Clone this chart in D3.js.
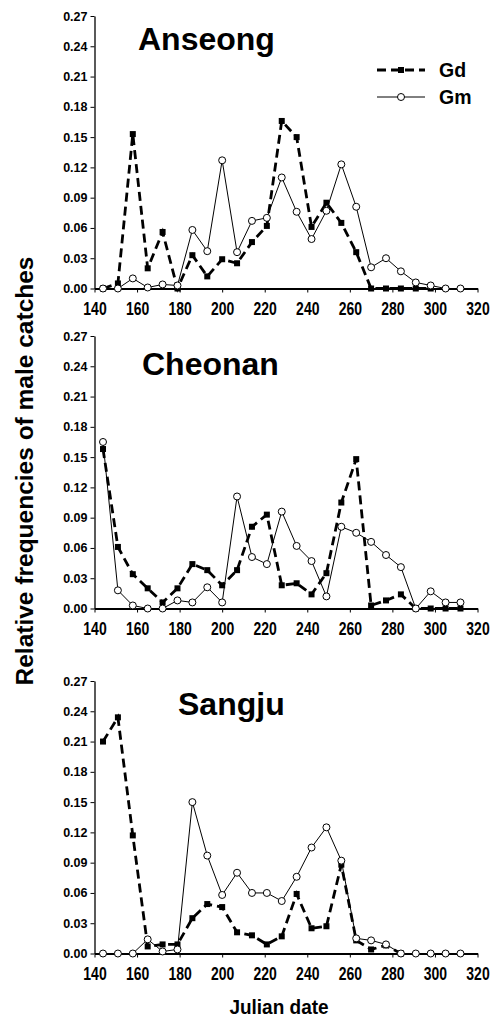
<!DOCTYPE html>
<html>
<head>
<meta charset="utf-8">
<script src="https://cdn.jsdelivr.net/npm/d3@7/dist/d3.min.js"></script>
<style>
    body { margin: 0; background: #fff; }
    svg { display: block; font-family: Arial, "Liberation Sans", sans-serif; font-weight: bold; }
</style>
</head>
<body>
<svg id="chart" width="493" height="1018"></svg>
<script>
// weekly sampling dates (Julian)
const dates = [ 144, 151, 158, 165, 172, 179, 186, 193, 200, 207, 214, 221, 228, 235, 242, 249, 256, 263, 270, 277, 284, 291, 298, 305, 312 ]

const xTicks = [ 140, 160, 180, 200, 220, 240, 260, 280, 300, 320 ]
const yTicks = [ 0, 0.03, 0.06, 0.09, 0.12, 0.15, 0.18, 0.21, 0.24, 0.27 ]

const sites = [ 'Anseong', 'Cheonan', 'Sangju' ]
const seriesNames = [ 'Gd', 'Gm' ]

const anseongGd = [ 0, 0.005, 0.153, 0.020, 0.056, 0, 0.033, 0.012, 0.029, 0.025, 0.046, 0.062, 0.166, 0.150, 0.061, 0.085, 0.065, 0.036, 0, 0, 0, 0, 0 ]
const anseongGm = [ 0, 0, 0.010, 0.001, 0.004, 0.003, 0.058, 0.037, 0.127, 0.036, 0.067, 0.070, 0.110, 0.076, 0.049, 0.077, 0.123, 0.081, 0.021, 0.030, 0.017, 0.006, 0.003, 0, 0 ]

const cheonanGd = [ 0.158, 0.061, 0.034, 0.020, 0.006, 0.020, 0.044, 0.038, 0.023, 0.038, 0.081, 0.093, 0.023, 0.025, 0.014, 0.035, 0.105, 0.148, 0.003, 0.008, 0.014, 0, 0, 0, 0 ]
const cheonanGm = [ 0.165, 0.018, 0.003, 0, 0, 0.008, 0.006, 0.021, 0.006, 0.111, 0.051, 0.044, 0.096, 0.062, 0.047, 0.012, 0.081, 0.075, 0.066, 0.053, 0.041, 0, 0.017, 0.006, 0.006 ]

const sangjuGd = [ 0.210, 0.234, 0.117, 0.007, 0.009, 0.009, 0.035, 0.049, 0.046, 0.021, 0.018, 0.009, 0.017, 0.059, 0.025, 0.027, 0.088, 0.013, 0.004, 0.008, 0 ]
const sangjuGm = [ 0, 0, 0, 0.014, 0.002, 0.004, 0.150, 0.097, 0.058, 0.080, 0.060, 0.060, 0.052, 0.076, 0.105, 0.125, 0.092, 0.015, 0.013, 0.009, 0, 0, 0, 0, 0 ]

const gdBySite = [ anseongGd, cheonanGd, sangjuGd ]
const gmBySite = [ anseongGm, cheonanGm, sangjuGm ]

const svg = d3.select( '#chart' )

const panelZero = [ 288.5, 608.5, 953.5 ],
      panelHeight = 272.5,
      titlePos = [ [ 138, 34 ], [ 142, 39 ], [ 178, 34 ] ]

const x = d3.scaleLinear().domain( [ 140, 320 ] ).range( [ 94.5, 477.5 ] )

const toPoints = values => values.map( ( v, i ) => [ dates[i], v ] )

sites.forEach( ( site, p ) => {
    const y = d3.scaleLinear().domain( [ 0, 0.27 ] ).range( [ panelZero[p], panelZero[p] - panelHeight ] )
    const g = svg.append( 'g' )

    // y axis
    const yAxis = g.append( 'g' )
        .attr( 'transform', `translate( ${x( 140 )}, 0 )` )
        .call( d3.axisLeft( y ).tickValues( yTicks ).tickFormat( d3.format( '.2f' ) ).tickSize( 4 ).tickPadding( 3 ).tickSizeOuter( 0 ) )
    yAxis.select( '.domain' ).attr( 'stroke-width', 1.3 )
    yAxis.selectAll( '.tick line' ).attr( 'stroke-width', 1 )
    yAxis.selectAll( 'text' ).attr( 'font-size', 12.5 ).attr( 'font-family', null ).attr( 'fill', '#000' )

    // x axis
    const xAxis = g.append( 'g' )
        .attr( 'transform', `translate( 0, ${y( 0 )} )` )
        .call( d3.axisBottom( x ).tickValues( xTicks ).tickSize( 4 ).tickSizeOuter( 0 ) )
    xAxis.select( '.domain' ).attr( 'stroke-width', 2 )
    xAxis.selectAll( '.tick line' ).attr( 'stroke-width', 1 )
    xAxis.selectAll( 'text' )
        .attr( 'font-size', 14 ).attr( 'font-family', null ).attr( 'fill', '#000' )
        .attr( 'y', 0 ).attr( 'dy', 0 )
        .attr( 'transform', 'translate( 0, 26.5 ) scale( 1, 1.33 )' )
    g.selectAll( '.domain' ).attr( 'stroke', '#000' )

    const line = d3.line().x( d => x( d[0] ) ).y( d => y( d[1] ) )

    const gd = toPoints( gdBySite[p] ),
          gm = toPoints( gmBySite[p] )

    g.append( 'path' )
        .attr( 'd', line( gd ) )
        .attr( 'fill', 'none' )
        .attr( 'stroke', '#000' )
        .attr( 'stroke-width', 2.8 )
        .attr( 'stroke-dasharray', '9,5' )

    g.selectAll( 'rect.gd' ).data( gd ).enter().append( 'rect' )
        .attr( 'class', 'gd' )
        .attr( 'x', d => x( d[0] ) - 3 )
        .attr( 'y', d => y( d[1] ) - 3 )
        .attr( 'width', 6 )
        .attr( 'height', 6 )
        .attr( 'fill', '#000' )

    g.append( 'path' )
        .attr( 'd', line( gm ) )
        .attr( 'fill', 'none' )
        .attr( 'stroke', '#000' )
        .attr( 'stroke-width', 1 )

    g.selectAll( 'circle.gm' ).data( gm ).enter().append( 'circle' )
        .attr( 'class', 'gm' )
        .attr( 'cx', d => x( d[0] ) )
        .attr( 'cy', d => y( d[1] ) )
        .attr( 'r', 3.5 )
        .attr( 'fill', '#fff' )
        .attr( 'stroke', '#000' )
        .attr( 'stroke-width', 1 )

    g.append( 'text' )
        .attr( 'x', titlePos[p][0] )
        .attr( 'y', y( 0.27 ) + titlePos[p][1] )
        .attr( 'font-size', 32 )
        .text( site )
} )

// legend (top panel only)
const legend = svg.append( 'g' ).attr( 'transform', 'translate( 377, 0 )' )
seriesNames.forEach( ( name, i ) => {
    const ly = 70 + i * 27
    legend.append( 'line' )
        .attr( 'x1', 0 ).attr( 'x2', 48 ).attr( 'y1', ly ).attr( 'y2', ly )
        .attr( 'stroke', '#000' )
        .attr( 'stroke-width', i === 0 ? 2.8 : 1 )
        .attr( 'stroke-dasharray', i === 0 ? '9,5' : null )
    if( i === 0 ) {
        legend.append( 'rect' ).attr( 'x', 21 ).attr( 'y', ly - 3 ).attr( 'width', 6 ).attr( 'height', 6 ).attr( 'fill', '#000' )
    } else {
        legend.append( 'circle' ).attr( 'cx', 24 ).attr( 'cy', ly ).attr( 'r', 3.5 ).attr( 'fill', '#fff' ).attr( 'stroke', '#000' )
    }
    legend.append( 'text' )
        .attr( 'x', 62 )
        .attr( 'y', ly + 7 )
        .attr( 'font-size', 19.5 )
        .text( name )
} )

// axis titles
svg.append( 'text' )
    .attr( 'transform', 'translate( 33, 471 ) rotate( -90 )' )
    .attr( 'text-anchor', 'middle' )
    .attr( 'font-size', 24.5 )
    .text( 'Relative frequencies of male catches' )

svg.append( 'text' )
    .attr( 'x', 279 )
    .attr( 'y', 1014 )
    .attr( 'text-anchor', 'middle' )
    .attr( 'font-size', 19 )
    .attr( 'transform', 'translate( 0, 1014 ) scale( 1, 1.1 ) translate( 0, -1014 )' )
    .text( 'Julian date' )
</script>
</body>
</html>
